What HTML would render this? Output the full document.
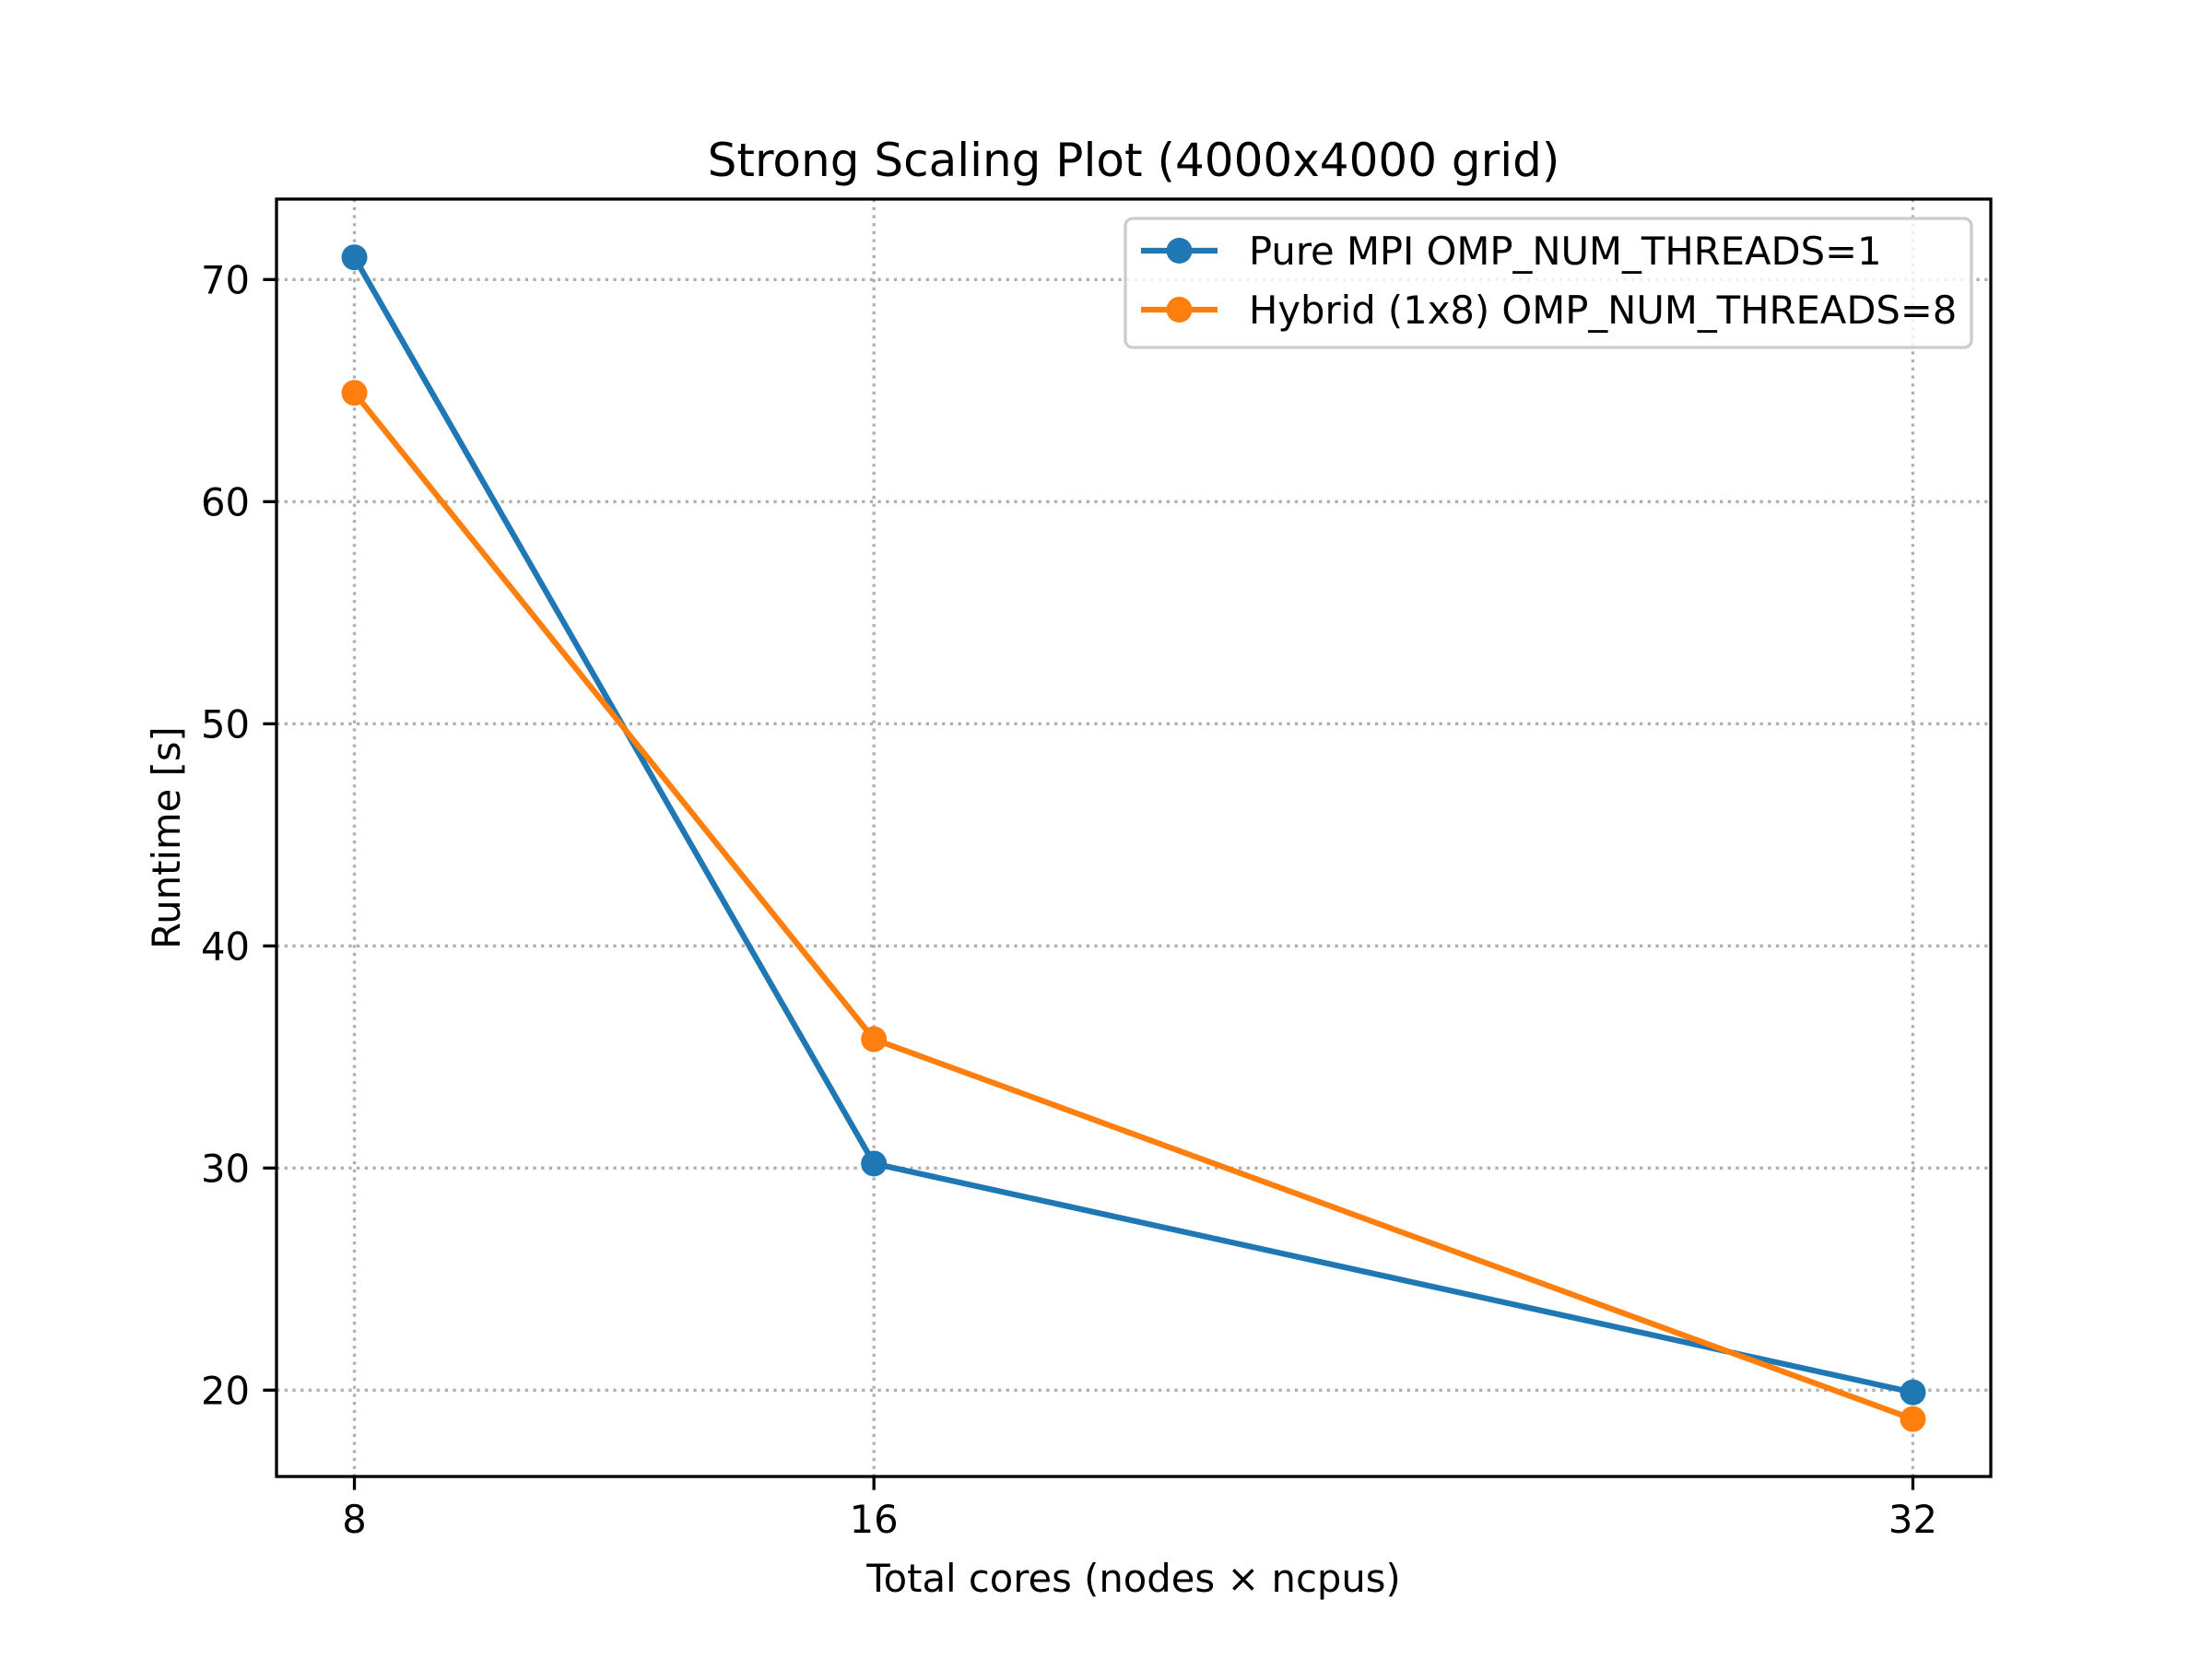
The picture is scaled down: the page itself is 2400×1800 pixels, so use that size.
<!DOCTYPE html>
<html><head><meta charset="utf-8"><style>
html,body{margin:0;padding:0;background:#fff;}
svg{display:block;font-family:"DejaVu Sans","Liberation Sans",sans-serif;}
</style></head><body>
<svg id="chart" width="2400" height="1800" viewBox="0 0 2400 1800" xmlns="http://www.w3.org/2000/svg">
<rect width="2400" height="1800" fill="#fff"/>
<g id="grid"></g>
<g id="series"></g>
<g id="axes"></g>
<text x="1230" y="191" font-size="50" text-anchor="middle">Strong Scaling Plot (4000x4000 grid)</text>
<text x="1230" y="1727" font-size="41.7" text-anchor="middle">Total cores (nodes × ncpus)</text>
<text x="0" y="0" font-size="41.7" text-anchor="middle" transform="translate(195,909) rotate(-90)">Runtime [s]</text>
<g>
<rect x="1221" y="237" width="918" height="140" rx="8" fill="#fff" fill-opacity="0.8" stroke="#cccccc" stroke-width="3.3"/>
<line x1="1238" y1="272" x2="1321" y2="272" stroke="#1f77b4" stroke-width="6.25"/>
<circle cx="1279.5" cy="272" r="14" fill="#1f77b4"/>
<text x="1355" y="287" font-size="41.7">Pure MPI OMP_NUM_THREADS=1</text>
<line x1="1238" y1="336" x2="1321" y2="336" stroke="#ff7f0e" stroke-width="6.25"/>
<circle cx="1279.5" cy="336" r="14" fill="#ff7f0e"/>
<text x="1355" y="351" font-size="41.7">Hybrid (1x8) OMP_NUM_THREADS=8</text>
</g>
</svg>
<script>
const cores = [8, 16, 32];
const pureMpi = [71.0, 30.2, 19.9];
const hybrid = [64.9, 35.8, 18.7];
const yTicks = [20, 30, 40, 50, 60, 70];
const xTickLabels = ["8", "16", "32"];

const L=300,R=2160,T=216,B=1602;
const xmin=6.8,xmax=33.2;
const Y20=1508.3,Y70=303.3;
function xs(v){return L+(v-xmin)/(xmax-xmin)*(R-L);}
function ys(v){return Y20+(v-20)*(Y70-Y20)/50;}
const NS="http://www.w3.org/2000/svg";
function mk(tag,attrs,parent){const e=document.createElementNS(NS,tag);for(const k in attrs)e.setAttribute(k,attrs[k]);parent.appendChild(e);return e;}
const grid=document.getElementById('grid'),series=document.getElementById('series'),axes=document.getElementById('axes');
cores.forEach((c,i)=>{
  const x=xs(c);
  const g=mk('line',{x1:x,y1:T,x2:x,y2:B,stroke:'#b0b0b0','stroke-width':3.3,'stroke-dasharray':'3.3 5.4'},grid);
  
  
  const t=mk('line',{x1:x,y1:B,x2:x,y2:B+14.6,stroke:'#000','stroke-width':3.3},axes);
  
  
  const lb=mk('text',{x:x,y:1663,'font-size':41.7,'text-anchor':'middle'},axes);
  lb.textContent=xTickLabels[i];
  
  
});
yTicks.forEach(v=>{
  const y=ys(v);
  const g=mk('line',{x1:L,y1:y,x2:R,y2:y,stroke:'#b0b0b0','stroke-width':3.3,'stroke-dasharray':'3.3 5.4'},grid);
  
  
  const t=mk('line',{x1:L-14.6,y1:y,x2:L,y2:y,stroke:'#000','stroke-width':3.3},axes);
  
  
  const lb=mk('text',{x:271,y:y+15,'font-size':41.7,'text-anchor':'end'},axes);
  lb.textContent=String(v);
  
  
});
function drawSeries(vals,color,name){
  const pts=cores.map((c,i)=>xs(c)+','+ys(vals[i])).join(' ');
  const pl=mk('polyline',{points:pts,fill:'none',stroke:color,'stroke-width':6.25,'stroke-linejoin':'round'},series);
  
  
  cores.forEach((c,i)=>{
    const m=mk('circle',{cx:xs(c),cy:ys(vals[i]),r:14,fill:color},series);
    
    
  });
}
drawSeries(pureMpi,'#1f77b4','pure-mpi');
drawSeries(hybrid,'#ff7f0e','hybrid');
const fr=mk('rect',{x:L,y:T,width:R-L,height:B-T,fill:'none',stroke:'#000','stroke-width':3.3},axes);


</script>
</body></html>
